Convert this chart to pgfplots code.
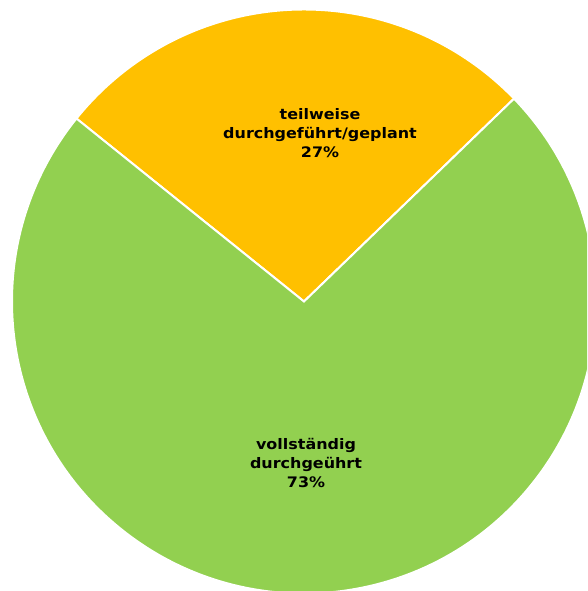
\documentclass[border=0pt]{standalone}
\usepackage{pgfplots}
\pgfplotsset{compat=1.18}
\usepackage{fontspec}
\setmainfont[FakeStretch=1.1]{DejaVu Sans}
\definecolor{pieorange}{HTML}{FFC000}
\definecolor{piegreen}{HTML}{92D050}
% values (percent)
\def\valA{27} % teilweise durchgeführt/geplant
\def\valB{73} % vollständig durchgeführt
\pgfmathsetmacro{\startA}{44.0}
\pgfmathsetmacro{\endA}{\startA+\valA*3.6}
\pgfmathsetmacro{\endB}{\endA+\valB*3.6}
\begin{document}
\begin{tikzpicture}
\begin{axis}[scale only axis, width=587pt, height=591pt,
  xmin=0, xmax=587, ymin=0, ymax=591, hide axis, clip=true]
\filldraw[fill=pieorange, draw=white, line width=2pt, line join=miter]
  (axis cs:304,289.5) -- ++(\startA:292pt) arc[start angle=\startA, end angle=\endA, radius=292pt] -- cycle;
\filldraw[fill=piegreen, draw=white, line width=2pt, line join=miter]
  (axis cs:304,289.5) -- ++(\endA:292pt) arc[start angle=\endA, end angle=\endB, radius=292pt] -- cycle;
\node[font=\bfseries\fontsize{14.5}{19}\selectfont, align=center] at (axis cs:320,458)
  {teilweise\\durchgeführt/geplant\\\valA\%};
\node[font=\bfseries\fontsize{14.5}{19}\selectfont, align=center] at (axis cs:306,128)
  {vollständig\\durchgeührt\\\valB\%};
\end{axis}
\end{tikzpicture}
\end{document}
